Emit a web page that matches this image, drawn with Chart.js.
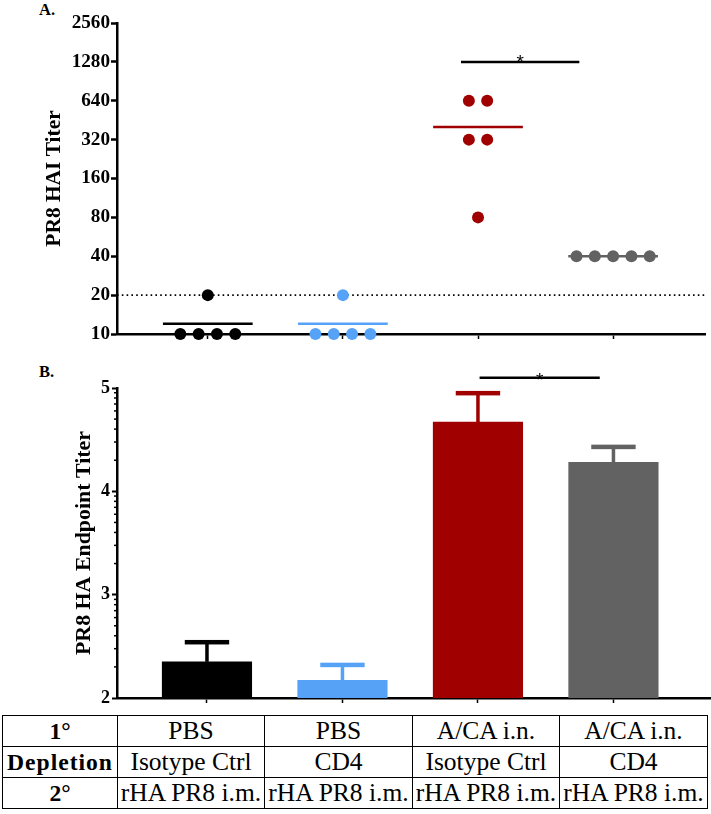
<!DOCTYPE html>
<html>
<head>
<meta charset="utf-8">
<script src="https://cdn.jsdelivr.net/npm/chart.js@4.4.1/dist/chart.umd.min.js"></script>
<style>
  html, body { margin:0; padding:0; background:#fff; width:711px; height:814px; overflow:hidden; position:relative; color:#000; }
  canvas { position:absolute; left:0; }
  #ca { top:0; }
  #cb { top:350px; }
  .lbl { position:absolute; left:39px; font-weight:bold; line-height:16px; }
  table { position:absolute; left:2px; top:715px; border-collapse:collapse; table-layout:fixed; width:705px; }
  td { border:1.5px solid #000; text-align:center; height:30px; line-height:30px; padding:0; white-space:nowrap; overflow:hidden; }
  td.h { font-weight:bold; }
</style>
</head>
<body>
<div class="lbl" id="la" style="top:2px">A.</div>
<div class="lbl" id="lb" style="top:364px">B.</div>
<canvas id="ca" width="711" height="350"></canvas>
<canvas id="cb" width="711" height="362"></canvas>
<table id="tbl"></table>
<script>
// ---------- data ----------
const groupIds = [1, 2, 3, 4];
const groupColors = ['#000000', '#56A2F7', '#A00000', '#626262'];
// Panel A: PR8 HAI titer per mouse
const haiPBSIso  = [20, 10, 10, 10, 10];
const haiPBSCD4  = [20, 10, 10, 10, 10];
const haiACAIso  = [640, 640, 320, 320, 80];
const haiACACD4  = [40, 40, 40, 40, 40];
const haiTicks   = [10, 20, 40, 80, 160, 320, 640, 1280, 2560];
const haiLimit   = 20;
// Panel B: log10 PR8 HA endpoint titer (mean, SEM)
const endpointMean = [2.35, 2.17, 4.67, 4.28];
const endpointSem  = [0.19, 0.15, 0.28, 0.15];
const endpointTicks = [2, 3, 4, 5];
// Table
const rowHeads  = ['1°', 'Depletion', '2°'];
const primary   = ['PBS', 'PBS', 'A/CA i.n.', 'A/CA i.n.'];
const depletion = ['Isotype Ctrl', 'CD4', 'Isotype Ctrl', 'CD4'];
const secondary = ['rHA PR8 i.m.', 'rHA PR8 i.m.', 'rHA PR8 i.m.', 'rHA PR8 i.m.'];

// ---------- layout constants ----------
const XA_MIN = 0.328, XA_MAX = 4.68;   // panel A x range (category units)
const XB_MIN = 0.336, XB_MAX = 4.72;   // panel B x range
const SPREAD = 0.1355;   // horizontal spacing of tied dots (x units)
const HALF = 0.332;      // half width of mean line (x units)

// ---------- font selection (serif, Times-like) ----------
const mctx = document.createElement('canvas').getContext('2d');
function hasFont(name) {
  const s = 'rHA PR8 i.m. Depletion 2560 WQgy';
  return ['monospace', 'sans-serif'].some(fb => {
    mctx.font = '40px ' + fb; const w0 = mctx.measureText(s).width;
    mctx.font = '40px "' + name + '", ' + fb; const w1 = mctx.measureText(s).width;
    return Math.abs(w0 - w1) > 0.5;
  });
}
const cands = ['Liberation Serif', 'Times New Roman', 'Tinos', 'Nimbus Roman', 'Nimbus Roman No9 L', 'FreeSerif', 'Noto Serif', 'DejaVu Serif'];
const found = cands.find(hasFont);
const SERIF = found ? '"' + found + '", serif' : 'serif';
function fit(text, bold, target, extra) {
  mctx.font = (bold ? 'bold ' : '') + '100px ' + SERIF;
  const w = mctx.measureText(text).width;
  return Math.round((target - (extra || 0)) / w * 100 * 10) / 10;
}
const SZ_TABLE = fit('rHA PR8 i.m.', false, 141.5);
const SZ_HEAD  = Math.min(fit('Depletion', true, 105, 8 * 1), SZ_TABLE + 2);
const SZ_TICKA = fit('2560', true, 38.3);
const SZ_TICKB = Math.min(fit('5', true, 9), SZ_TICKA);
const SZ_TITLE_A = fit('PR8 HAI Titer', true, 136);
const SZ_TITLE_B = fit('PR8 HA Endpoint Titer', true, 224);
const SZ_LBL = fit('A.', true, 16);

document.body.style.fontFamily = SERIF;
['la', 'lb'].forEach(id => document.getElementById(id).style.fontSize = SZ_LBL + 'px');

// table
(function(){
  const t = document.getElementById('tbl');
  t.style.fontSize = SZ_TABLE + 'px';
  const cols = [115, 147, 148, 147, 148];
  const cg = document.createElement('colgroup');
  cols.forEach(w => { const c = document.createElement('col'); c.style.width = w + 'px'; cg.appendChild(c); });
  t.appendChild(cg);
  [primary, depletion, secondary].forEach((row, r) => {
    const tr = document.createElement('tr');
    const th = document.createElement('td'); th.className = 'h'; th.textContent = rowHeads[r];
    th.style.fontSize = SZ_HEAD + 'px';
    if (r === 1) th.style.letterSpacing = '1px';
    tr.appendChild(th);
    row.forEach(v => { const td = document.createElement('td'); td.textContent = v; tr.appendChild(td); });
    t.appendChild(tr);
  });
})();

// spread tied values horizontally around the group centre
function dots(values, center) {
  const counts = {}, seen = {};
  values.forEach(v => counts[v] = (counts[v] || 0) + 1);
  return values.map(v => {
    const k = seen[v] = (seen[v] || 0);
    seen[v]++;
    return { x: center + (k - (counts[v] - 1) / 2) * SPREAD, y: v };
  });
}
const mean = a => a.reduce((s, v) => s + v, 0) / a.length;
const haiGroups = [haiPBSIso, haiPBSCD4, haiACAIso, haiACACD4];
const axisFont = size => ({ family: SERIF, size: size, weight: 'bold' });

// significance bar + asterisk plugin
function sigPlugin(spec) {
  return {
    id: 'sig',
    afterDatasetsDraw(chart) {
      const { ctx, scales: { x, y } } = chart;
      const x1 = x.getPixelForValue(spec.from), x2 = x.getPixelForValue(spec.to);
      const yy = y.getPixelForValue(spec.y);
      ctx.save();
      ctx.strokeStyle = '#000'; ctx.lineWidth = 2.5;
      ctx.beginPath(); ctx.moveTo(x1, yy); ctx.lineTo(x2, yy); ctx.stroke();
      ctx.fillStyle = '#000';
      ctx.font = '19px "Liberation Sans", Arial, sans-serif';
      ctx.textAlign = 'center'; ctx.textBaseline = 'alphabetic';
      ctx.fillText('*', (x1 + x2) / 2, yy + spec.dy);
      ctx.restore();
    }
  };
}

// ---------- Panel A ----------
const dsA = [];
haiGroups.forEach((g, i) => {
  dsA.push({ type: 'scatter', data: dots(g, groupIds[i]), pointRadius: 6, pointBorderWidth: 0,
    pointBackgroundColor: groupColors[i], pointBorderColor: groupColors[i], order: 0, clip: false });
});
haiGroups.forEach((g, i) => {
  const m = mean(g);
  dsA.push({ type: 'line', data: [{ x: groupIds[i] - HALF, y: m }, { x: groupIds[i] + HALF, y: m }],
    borderColor: groupColors[i], borderWidth: 2.5, pointRadius: 0, order: 1, clip: false });
});
dsA.push({ type: 'line', data: [{ x: XA_MIN, y: haiLimit }, { x: XA_MAX, y: haiLimit }],
  borderColor: '#000', borderWidth: 1.6, borderDash: [1.6, 3.2], pointRadius: 0, order: 2 });

new Chart(document.getElementById('ca'), {
  type: 'scatter',
  data: { datasets: dsA },
  options: {
    responsive: false, animation: false, devicePixelRatio: 1,
    layout: { padding: { top: 23, right: 0, bottom: 0, left: 0 } },
    plugins: { legend: { display: false }, tooltip: { enabled: false } },
    scales: {
      x: { type: 'linear', min: XA_MIN, max: XA_MAX,
        afterBuildTicks: s => { s.ticks = groupIds.map(v => ({ value: v })); },
        ticks: { display: false },
        grid: { display: true, drawOnChartArea: false, drawTicks: true, tickLength: 5, tickWidth: 1.5, tickColor: '#000' },
        border: { display: true, color: '#000', width: 2.5 },
        afterFit: s => { s.height = 16; } },
      y: { type: 'logarithmic', min: 10, max: 2560,
        afterBuildTicks: s => { s.ticks = haiTicks.map(v => ({ value: v })); },
        ticks: { color: '#000', font: axisFont(SZ_TICKA), padding: 1, autoSkip: false, callback: v => String(v) },
        grid: { display: true, drawOnChartArea: false, drawTicks: true, tickLength: 6, tickWidth: 2.5, tickColor: '#000' },
        border: { display: true, color: '#000', width: 2.5 },
        title: { display: true, text: 'PR8 HAI Titer', color: '#000', font: axisFont(SZ_TITLE_A),
          padding: { top: 54 - SZ_TITLE_A * 0.6, bottom: 0 } },
        afterFit: s => { s.width = 117; } }
    }
  },
  plugins: [sigPlugin({ from: 2.874, to: 3.75, y: 1280, dy: 6 })]
});

// ---------- Panel B ----------
const errPlugin = {
  id: 'err',
  afterDatasetsDraw(chart) {
    const { ctx, scales: { x, y } } = chart;
    ctx.save();
    endpointMean.forEach((m, i) => {
      const px = x.getPixelForValue(groupIds[i]);
      const yTop = y.getPixelForValue(m);
      const yErr = y.getPixelForValue(m + endpointSem[i]);
      ctx.fillStyle = groupColors[i];
      ctx.fillRect(px - 1.75, yErr, 3.5, yTop - yErr);
      ctx.fillRect(px - 22.2, yErr - 2.25, 44.4, 4.5);
    });
    ctx.restore();
  }
};
const minorPlugin = {
  id: 'minor',
  afterDraw(chart) {
    const { ctx, scales: { y } } = chart;
    ctx.save();
    ctx.strokeStyle = '#000'; ctx.lineWidth = 1.5;
    for (let d = endpointTicks[0]; d < endpointTicks[endpointTicks.length - 1]; d++) {
      for (let k = 2; k <= 9; k++) {
        const py = y.getPixelForValue(d + Math.log10(k));
        ctx.beginPath(); ctx.moveTo(y.right - 3, py); ctx.lineTo(y.right, py); ctx.stroke();
      }
    }
    ctx.restore();
  }
};

new Chart(document.getElementById('cb'), {
  type: 'bar',
  data: { datasets: [{
    data: endpointMean.map((v, i) => ({ x: groupIds[i], y: v })),
    backgroundColor: groupColors, borderWidth: 0, barThickness: 89.5
  }] },
  options: {
    responsive: false, animation: false, devicePixelRatio: 1,
    layout: { padding: { top: 38, right: 0, bottom: 0, left: 0 } },
    plugins: { legend: { display: false }, tooltip: { enabled: false } },
    scales: {
      x: { type: 'linear', min: XB_MIN, max: XB_MAX, offset: false,
        afterBuildTicks: s => { s.ticks = groupIds.map(v => ({ value: v })); },
        ticks: { display: false },
        grid: { display: true, drawOnChartArea: false, drawTicks: true, tickLength: 5, tickWidth: 1.5, tickColor: '#000', offset: false },
        border: { display: true, color: '#000', width: 2.5 },
        afterFit: s => { s.height = 14; } },
      y: { type: 'linear', min: 2, max: 5,
        afterBuildTicks: s => { s.ticks = endpointTicks.map(v => ({ value: v })); },
        ticks: { color: '#000', font: axisFont(SZ_TICKB), padding: 2, autoSkip: false },
        grid: { display: true, drawOnChartArea: false, drawTicks: true, tickLength: 5, tickWidth: 2, tickColor: '#000' },
        border: { display: true, color: '#000', width: 2.5 },
        title: { display: true, text: 'PR8 HA Endpoint Titer', color: '#000', font: axisFont(SZ_TITLE_B),
          padding: { top: 84 - SZ_TITLE_B * 0.6, bottom: 0 } },
        afterFit: s => { s.width = 117; } }
    }
  },
  plugins: [errPlugin, minorPlugin, sigPlugin({ from: 3.012, to: 3.899, y: 5.10, dy: 8 })]
});
</script>
</body>
</html>
